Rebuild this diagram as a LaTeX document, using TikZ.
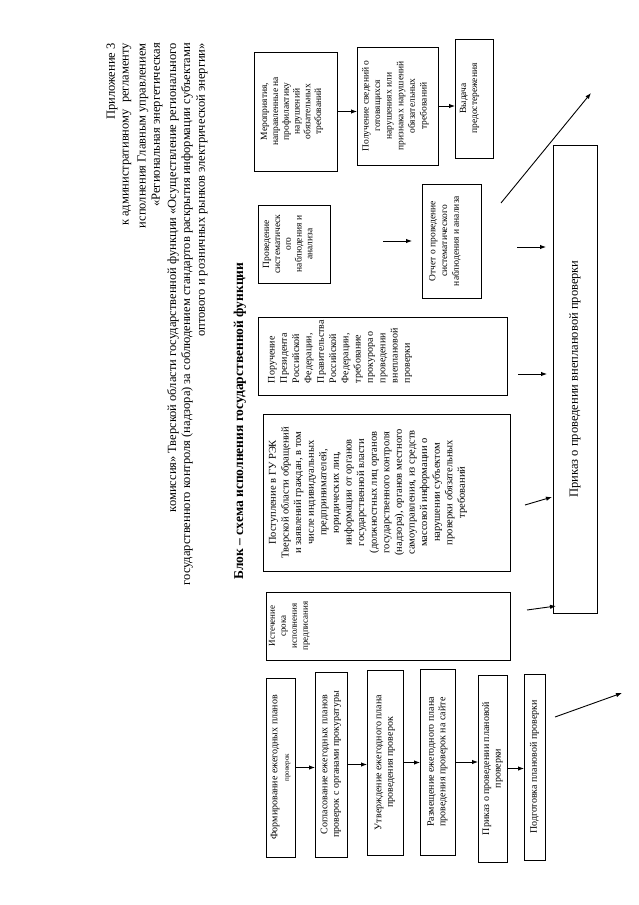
\documentclass[tikz,border=0pt]{standalone}
\usepackage{fontspec}
\setmainfont{Liberation Serif}
\usetikzlibrary{arrows.meta,calc}
\newcommand\tb[3]{\parbox[c][#2][t]{#1}{\centering #3}}
\newcommand\tbl[4]{\parbox[c][#2][t]{#1}{\raggedright\leftskip=#3 #4}}
\begin{document}
\begin{tikzpicture}[x=1pt,y=-1pt,
  bx/.style={draw,line width=0.8pt,rotate=90,inner sep=0pt,outer sep=0pt},
  planbox/.style={bx,align=center,font=\fontsize{10}{11.5}\selectfont},
  arr/.style={line width=0.9pt,-{Latex[length=6pt,width=4.5pt]}},
  hdr/.style={rotate=90,anchor=east,inner sep=0pt,font=\fontsize{12.5}{15}\selectfont},
  fs/.style={font=\fontsize{9.5}{10.8}\selectfont},
  fm/.style={font=\fontsize{10}{12.3}\selectfont}]
\useasboundingbox (0,0) rectangle (639,905);

% header
\node[hdr] (h1) at (112,43) {Приложение 3};
\node[hdr] (h2) at (127,43) {к административному~ регламенту};
\node[hdr] (h3) at (143,43) {исполнения Главным управлением};
\node[hdr] (h4) at (157,43) {«Региональная энергетическая};
\node[hdr] (h5) at (173,43) {комиссия» Тверской области государственной функции «Осуществление регионального};
\node[hdr] (h6) at (187,43) {государственного контроля (надзора) за соблюдением стандартов раскрытия информации субъектами};
\node[hdr] (h7) at (202,43) {оптового и розничных рынков электрической энергии»};

\node[rotate=90,inner sep=0pt,font=\bfseries\fontsize{13.5}{16}\selectfont] (title) at (240,421) {Блок – схема исполнения государственной функции};

% top row
\node[bx,fs,minimum width=119pt,minimum height=83pt] (mer) at (295.5,111.5)
  {\tb{112pt}{69pt}{Мероприятия,\\ направленные на\\ профилактику\\ нарушений\\ обязательных\\ требований}};
\node[bx,font=\fontsize{9.5}{11.6}\selectfont,minimum width=118pt,minimum height=81pt] (pol) at (397.5,106)
  {\tb{112pt}{71pt}{Получение сведений о\\ готовящихся\\ нарушениях или\\ признаках нарушений\\ обязательных\\ требований}};
\node[bx,fs,minimum width=119pt,minimum height=38pt] (vyd) at (474,98.5)
  {\tb{112pt}{28pt}{Выдача\\ предостережения}};

\node[bx,fs,minimum width=78pt,minimum height=72pt] (prov) at (294,244)
  {\tb{76pt}{62pt}{Проведение\\ систематическ\\ ого\\ наблюдения и\\ анализа}};
\node[bx,font=\fontsize{9.5}{11.8}\selectfont,minimum width=114pt,minimum height=59pt] (otch) at (451.5,241)
  {\tb{110pt}{45pt}{Отчет о проведение\\ систематического\\ наблюдения и анализа}};

\node[bx,fm,minimum width=78pt,minimum height=249pt] (poruch) at (382.5,356)
  {\tbl{74pt}{229pt}{10pt}{Поручение\\ Президента\\ Российской\\ Федерации,\\ Правительства\\ Российской\\ Федерации,\\ требование\\ прокурора о\\ проведении\\ внеплановой\\ проверки}};

\node[bx,font=\fontsize{10.5}{12.6}\selectfont,minimum width=157pt,minimum height=247pt] (post) at (386.5,492.5)
  {\tb{152pt}{235pt}{Поступление в ГУ РЭК\\ Тверской области обращений\\ и заявлений граждан, в том\\ числе индивидуальных\\ предпринимателей,\\ юридических лиц,\\ информации от органов\\ государственной власти\\ (должностных лиц органов\\ государственного контроля\\ (надзора), органов местного\\ самоуправления, из средств\\ массовой информации о\\ нарушении субъектом\\ проверки обязательных\\ требований}};

\node[bx,font=\fontsize{9}{11}\selectfont,minimum width=68pt,minimum height=244pt] (ist) at (388,626)
  {\tb{66pt}{238pt}{Истечение\\ срока\\ исполнения\\ предписания}};

\node[bx,font=\fontsize{12.5}{15}\selectfont,minimum width=468pt,minimum height=44pt] (prikaz) at (575,379)
  {Приказ о проведении внеплановой проверки};

% plan row
\node[planbox,minimum width=179pt,minimum height=29pt] (p1) at (280.5,767.5)
  {Формирование ежегодных планов\\ {\fontsize{7}{8}\selectfont проверок}};
\node[planbox,minimum width=185pt,minimum height=32pt] (p2) at (331,764.5)
  {Согласование ежегодных планов\\ проверок с органами прокуратуры};
\node[planbox,minimum width=185pt,minimum height=36pt] (p3) at (385,762.5)
  {Утверждение ежегодного плана\\ проведения проверок};
\node[planbox,minimum width=186pt,minimum height=35pt] (p4) at (437.5,762)
  {Размещение ежегодного плана\\ проведения проверок на сайте};
\node[planbox,minimum width=187pt,minimum height=29pt] (p5) at (492.5,768.5)
  {Приказ о проведении плановой\\ проверки};
\node[planbox,minimum width=186pt,minimum height=21pt] (p6) at (534.5,767)
  {Подготовка плановой проверки};

% free-end coordinates
\coordinate (d1a) at (501,203);
\coordinate (d1b) at (591,93);
\coordinate (d2a) at (555,717);
\coordinate (d2b) at (622,693);

% connectors
\draw[arr] (mer.south) -- (mer.south -| pol.north);
\draw[arr] (pol.south) -- (pol.south -| vyd.north);
\draw[arr] ([xshift=-39pt]otch.north) -- ([xshift=-10pt]otch.north);
\draw[arr] ($(otch.south)+(36,6)$) -- ($(prikaz.north |- otch.south)+(-7,6)$);
\draw[arr] ($(poruch.south)+(11,18)$) -- ($(prikaz.north |- poruch.south)+(-6,18)$);
\draw[arr] ($(post.south)+(15,12.5)$) -- ($(prikaz.north |- post.south)+(-1,4.5)$);
\draw[arr] ($(ist.south)+(17,-16)$) -- ($(prikaz.north |- ist.south)+(3,-20)$);
\draw[arr] (d1a) -- (d1b);
\draw[arr] (d2a) -- (d2b);
\draw[arr] (p1.south) -- (p1.south -| p2.north);
\draw[arr] (p2.south) -- (p2.south -| p3.north);
\draw[arr] (p3.south) -- (p3.south -| p4.north);
\draw[arr] (p4.south) -- (p4.south -| p5.north);
\draw[arr] (p5.south) -- (p5.south -| p6.north);
\end{tikzpicture}
\end{document}
